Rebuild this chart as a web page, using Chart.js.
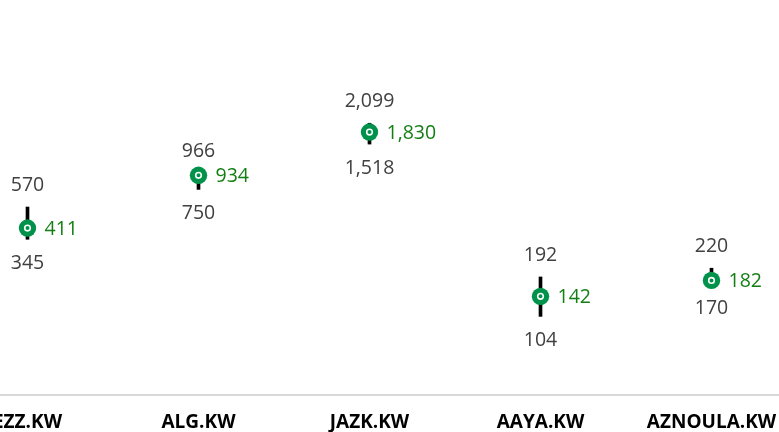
<!DOCTYPE html>
<html>
<head>
<meta charset="utf-8">
<script src="https://cdn.jsdelivr.net/npm/chart.js@4/dist/chart.umd.min.js"></script>
<style>
  html, body { margin: 0; padding: 0; background: #fff; overflow: hidden; }
  #wrap { position: absolute; left: -58px; top: 0; width: 855px; height: 432px; }
</style>
</head>
<body>
<div id="wrap"><canvas id="rangeChart"></canvas></div>
<script>
const tickers = ['EZZ.KW', 'ALG.KW', 'JAZK.KW', 'AAYA.KW', 'AZNOULA.KW'];
const highs = [570, 966, 2099, 192, 220];
const lows = [345, 750, 1518, 104, 170];
const current = [411, 934, 1830, 142, 182];

const FONT = "'Open Sans', sans-serif";
const GREEN = '#00924A';
const LABEL_GREEN = '#137F13';

const fmt = (v) => v.toLocaleString('en-US');

// draws high / low / current labels next to each range
const rangeLabels = {
  id: 'rangeLabels',
  afterDatasetsDraw(chart) {
    const ctx = chart.ctx;
    const x = chart.scales.x;
    const y = chart.scales.y;
    ctx.save();
    ctx.font = '19.5px ' + FONT;
    ctx.textBaseline = 'middle';
    tickers.forEach((t, i) => {
      const px = x.getPixelForValue(i);
      ctx.fillStyle = '#404040';
      ctx.textAlign = 'center';
      ctx.fillText(fmt(highs[i]), px, y.getPixelForValue(highs[i]) - 22);
      ctx.fillText(fmt(lows[i]), px, y.getPixelForValue(lows[i]) + 24);
      ctx.fillStyle = LABEL_GREEN;
      ctx.textAlign = 'left';
      ctx.fillText(fmt(current[i]), px + 17, y.getPixelForValue(current[i]) + 1);
    });
    ctx.restore();
  }
};

new Chart(document.getElementById('rangeChart'), {
  data: {
    labels: tickers,
    datasets: [
      {
        type: 'line',
        label: 'Current inner',
        data: current,
        showLine: false,
        pointRadius: 2.8,
        pointBackgroundColor: GREEN,
        pointBorderColor: '#fff',
        pointBorderWidth: 1.6,
        order: 0
      },
      {
        type: 'line',
        label: 'Current',
        data: current,
        showLine: false,
        pointRadius: 8.7,
        pointBackgroundColor: GREEN,
        pointBorderWidth: 0,
        order: 1
      },
      {
        type: 'bar',
        label: 'Range',
        data: tickers.map((t, i) => [lows[i], highs[i]]),
        backgroundColor: '#000',
        barThickness: 3,
        borderSkipped: false,
        order: 2
      }
    ]
  },
  options: {
    responsive: true,
    maintainAspectRatio: false,
    animation: false,
    layout: { padding: 0, autoPadding: false },
    plugins: {
      legend: { display: false },
      tooltip: { enabled: false }
    },
    scales: {
      x: {
        grid: { display: false, drawTicks: false },
        border: { color: '#d9d9d9', width: 2 },
        ticks: {
          color: '#000',
          padding: 16,
          maxRotation: 0,
          autoSkip: false,
          font: { family: FONT, size: 19, weight: 'bold' }
        },
        afterFit(scale) { scale.height = 37; }
      },
      y: {
        type: 'logarithmic',
        display: false,
        min: 30.6,
        max: 14280
      }
    }
  },
  plugins: [rangeLabels]
});
</script>
</body>
</html>
